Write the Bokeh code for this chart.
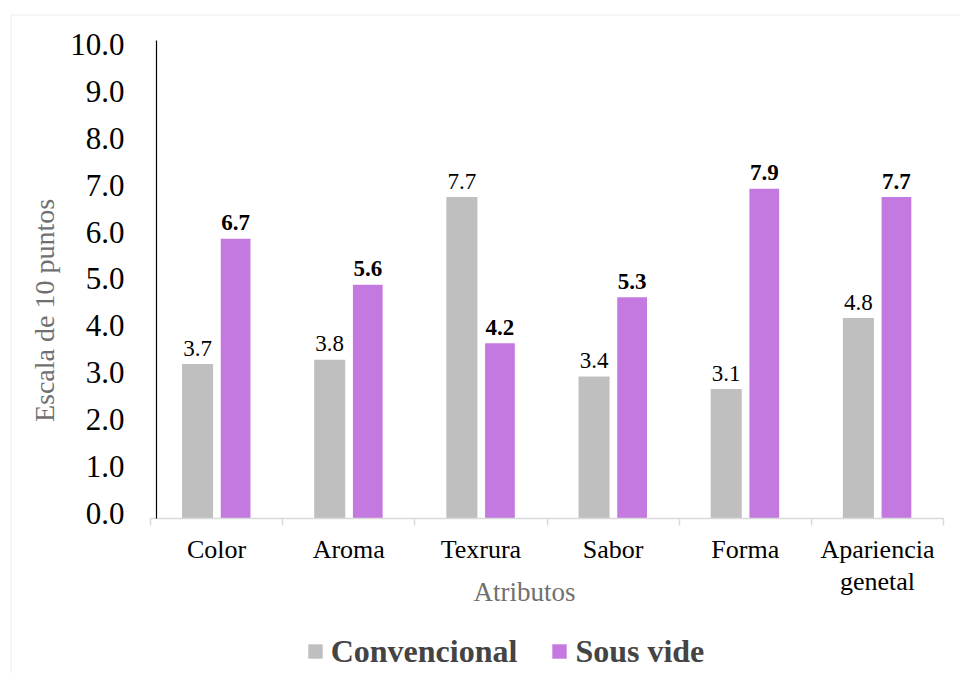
from bokeh.plotting import figure
from bokeh.models import (ColumnDataSource, Range1d, LinearAxis, FixedTicker,
                          PrintfTickFormatter, Label, Legend, LegendItem, BoxAnnotation)
from bokeh.transform import dodge
from bokeh.core.properties import value
from bokeh.embed import file_html
from bokeh.resources import INLINE

# ---- data ----
categories = ["Color", "Aroma", "Texrura", "Sabor", "Forma", "Apariencia\ngenetal"]
convencional = [3.7, 3.8, 7.7, 3.4, 3.1, 4.8]
sous_vide = [6.7, 5.6, 4.2, 5.3, 7.9, 7.7]
y_tick_values = [0, 1, 2, 3, 4, 5, 6, 7, 8, 9, 10]
series_names = ["Convencional", "Sous vide"]

FONT = "Liberation Serif"
GRAY = "#bfbfbf"
PURPLE = "#c479e1"
TITLE_GRAY = "#707070"

n = len(categories)
centers = [i + 0.5 for i in range(n)]
edges = list(range(n + 1))

src = ColumnDataSource(dict(
    pos=centers,
    cat=categories,
    conv=convencional,
    sv=sous_vide,
    conv_lbl=[f"{v:.1f}" for v in convencional],
    sv_lbl=[f"{v:.1f}" for v in sous_vide],
))

# the frame covers the whole canvas; axes are pinned inside it
p = figure(x_range=Range1d(-1.1349, 6.1286), y_range=Range1d(-3.7126, 12.407),
           width=960, height=673, output_backend="svg", toolbar_location=None,
           x_axis_location=None, y_axis_location=None,
           min_border_left=0, min_border_right=0, min_border_top=0, min_border_bottom=0)
p.outline_line_color = None
p.grid.visible = False

# outer light border (top and left edges)
p.add_layout(BoxAnnotation(left=10.5, right=2000, top=658.5, bottom=-50,
                           left_units="screen", right_units="screen",
                           top_units="screen", bottom_units="screen",
                           fill_alpha=0, line_color="#d9d9d9", line_width=1.6))

# x axis: category labels at centers, boundary ticks between categories
x_axis = LinearAxis(ticker=FixedTicker(ticks=centers, minor_ticks=edges),
                    major_label_overrides={c: name for c, name in zip(centers, categories)},
                    fixed_location=0, bounds=(0, n),
                    axis_line_color="#d9d9d9", axis_line_width=1.5,
                    major_tick_line_color=None,
                    minor_tick_line_color="#d9d9d9", minor_tick_line_width=1.5,
                    minor_tick_out=7, minor_tick_in=0,
                    major_label_text_font=FONT, major_label_text_font_size="26px",
                    major_label_text_line_height=1.1,
                    major_label_text_color="black", major_label_standoff=10)
p.add_layout(x_axis, "below")

# y axis (its own scale, as printed in the reference)
p.extra_y_ranges = {"scale": Range1d(-3.4115, 10.938)}
y_axis = LinearAxis(y_range_name="scale", ticker=FixedTicker(ticks=y_tick_values),
                    formatter=PrintfTickFormatter(format="%.1f"),
                    fixed_location=0.045, bounds=(-0.107, 10.085),
                    axis_line_color="black", axis_line_width=1.2,
                    major_tick_line_color=None, minor_tick_line_color=None,
                    major_label_text_font=FONT, major_label_text_font_size="31px",
                    major_label_text_color="black", major_label_standoff=26)
p.add_layout(y_axis, "left")

# bars
r1 = p.vbar(x=dodge("pos", -0.144), top="conv", width=0.235, source=src,
            fill_color=GRAY, line_color=None)
r2 = p.vbar(x=dodge("pos", 0.144), top="sv", width=0.225, source=src,
            fill_color=PURPLE, line_color=None)

# value labels
p.text(x=dodge("pos", -0.144), y="conv", text="conv_lbl", source=src,
       text_font=value(FONT), text_font_size="23px", text_align="center",
       text_baseline="alphabetic", y_offset=-16, text_color="black")
p.text(x=dodge("pos", 0.144), y="sv", text="sv_lbl", source=src,
       text_font=value(FONT), text_font_size="23px", text_font_style="bold", text_align="center",
       text_baseline="alphabetic", y_offset=-16, text_color="black")

# axis titles
p.add_layout(Label(x=44, y=363, x_units="screen", y_units="screen", text="Escala de 10 puntos",
                   angle=90, angle_units="deg", text_align="center", text_baseline="middle",
                   text_font=FONT, text_font_size="28px", text_color=TITLE_GRAY))
p.add_layout(Label(x=524, y=82, x_units="screen", y_units="screen", text="Atributos",
                   text_align="center", text_baseline="middle",
                   text_font=FONT, text_font_size="27px", text_color=TITLE_GRAY))

# legend
legend = Legend(items=[LegendItem(label=series_names[0], renderers=[r1]),
                       LegendItem(label=series_names[1], renderers=[r2])],
                orientation="horizontal", location=(305.7, 3.5),
                label_text_font=FONT, label_text_font_size="32px", label_text_font_style="bold",
                glyph_width=18, glyph_height=18, label_standoff=7, spacing=33,
                padding=0, margin=0, border_line_color=None, background_fill_alpha=0)
p.add_layout(legend, "center")

open("out.html", "w").write(file_html(p, INLINE))
